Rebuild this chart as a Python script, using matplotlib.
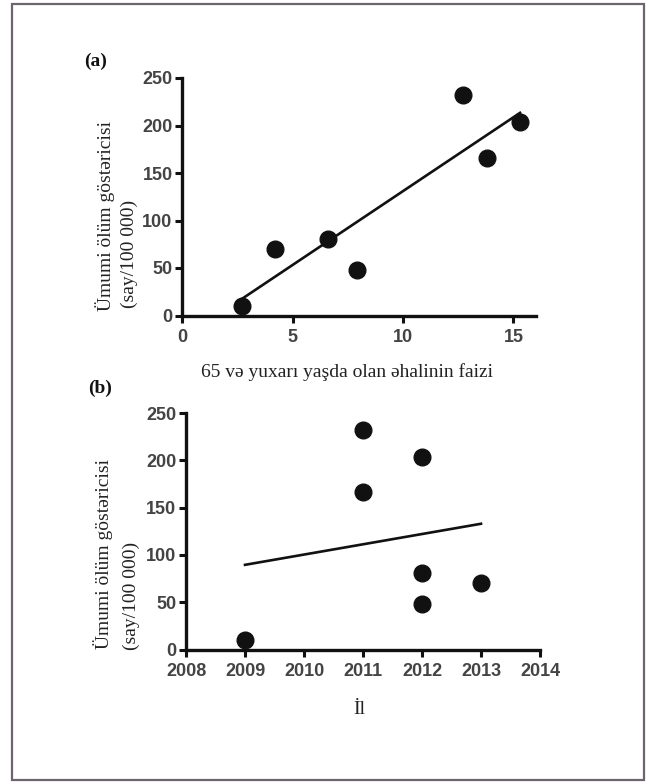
import numpy as np
import matplotlib
matplotlib.use("Agg")
import matplotlib.pyplot as plt
from matplotlib.patches import Rectangle

# Data
pct65 = [2.7, 4.2, 6.6, 7.9, 12.7, 13.8, 15.3]
mortality = [10, 70, 81, 48, 232, 166, 204]
years = [2009, 2013, 2012, 2012, 2011, 2011, 2012]

xticks_a = [0, 5, 10, 15]
xticks_b = [2008, 2009, 2010, 2011, 2012, 2013, 2014]
yticks = [0, 50, 100, 150, 200, 250]

ylabel_1 = "Ümumi ölüm göstəricisi"
ylabel_2 = "(say/100 000)"
xlabel_a = "65 və yuxarı yaşda olan əhalinin faizi"
xlabel_b = "İl"

W, H = 652, 784
fig = plt.figure(figsize=(W / 100, H / 100), dpi=100)
fig.patch.set_facecolor("white")

serif = ["Liberation Serif", "DejaVu Serif"]
sans = ["Liberation Sans", "DejaVu Sans"]
tick_col = "#444444"


def fx(px):
    return px / W


def fy(py):
    return 1 - py / H


def style(ax):
    for s in ["top", "right"]:
        ax.spines[s].set_visible(False)
    for s in ["left", "bottom"]:
        ax.spines[s].set_linewidth(2.4)
        ax.spines[s].set_color("#111111")
    ax.tick_params(axis="both", direction="out", length=5, width=2.2,
                   color="#111111", labelcolor=tick_col)
    ax.tick_params(axis="x", pad=5)
    ax.tick_params(axis="y", pad=2)
    for lab in ax.get_xticklabels() + ax.get_yticklabels():
        lab.set_family(sans)
        lab.set_fontweight("bold")
        lab.set_fontsize(13)
    ax.set_facecolor("none")


# Panel (a)
axa = fig.add_axes([fx(182.3), fy(315.5), (535.5 - 182.3) / W, (315.5 - 78) / H])
axa.set_xlim(0, 16)
axa.set_ylim(0, 250)
axa.set_xticks(xticks_a)
axa.set_yticks(yticks)
axa.plot(pct65, mortality, "o", color="#111111", ms=12, clip_on=False, zorder=3)
ca = np.polyfit(pct65, mortality, 1)
xa = np.array([min(pct65), max(pct65)])
axa.plot(xa, np.polyval(ca, xa), color="#111111", lw=1.9, zorder=2)
style(axa)

# Panel (b)
axb = fig.add_axes([fx(186), fy(649.5), (540 - 186) / W, (649.5 - 413) / H])
axb.set_xlim(2008, 2014)
axb.set_ylim(0, 250)
axb.set_xticks(xticks_b)
axb.set_yticks(yticks)
axb.plot(years, mortality, "o", color="#111111", ms=12, clip_on=False, zorder=3)
cb = np.polyfit(years, mortality, 1)
xb = np.array([min(years), max(years)])
axb.plot(xb, np.polyval(cb, xb), color="#111111", lw=1.9, zorder=2)
style(axb)

# Axis labels
lab_col = "#222222"
fig.text(fx(105), fy(311), ylabel_1, rotation=90, ha="center", va="bottom",
         family=serif, fontsize=14, color=lab_col)
fig.text(fx(129), fy(308), ylabel_2, rotation=90, ha="center", va="bottom",
         family=serif, fontsize=14, color=lab_col)
fig.text(fx(103), fy(649), ylabel_1, rotation=90, ha="center", va="bottom",
         family=serif, fontsize=14, color=lab_col)
fig.text(fx(131), fy(650), ylabel_2, rotation=90, ha="center", va="bottom",
         family=serif, fontsize=14, color=lab_col)

fig.text(fx(347), fy(372), xlabel_a, ha="center", va="center",
         family=serif, fontsize=14, color=lab_col)
fig.text(fx(359), fy(710), xlabel_b, ha="center", va="center",
         family=serif, fontsize=14, color=lab_col)

# Panel letters
fig.text(fx(96), fy(61), "(a)", ha="center", va="center", family=serif,
         fontsize=14, fontweight="bold", color="#111111")
fig.text(fx(100), fy(388), "(b)", ha="center", va="center", family=serif,
         fontsize=14, fontweight="bold", color="#111111")

# Frame
fig.patches.append(Rectangle((fx(12), fy(780)), fx(644) - fx(12), fy(4) - fy(780),
                             transform=fig.transFigure, fill=False,
                             edgecolor="#6f6275", linewidth=1.6))

fig.savefig("out.png", dpi=100, facecolor="white")
